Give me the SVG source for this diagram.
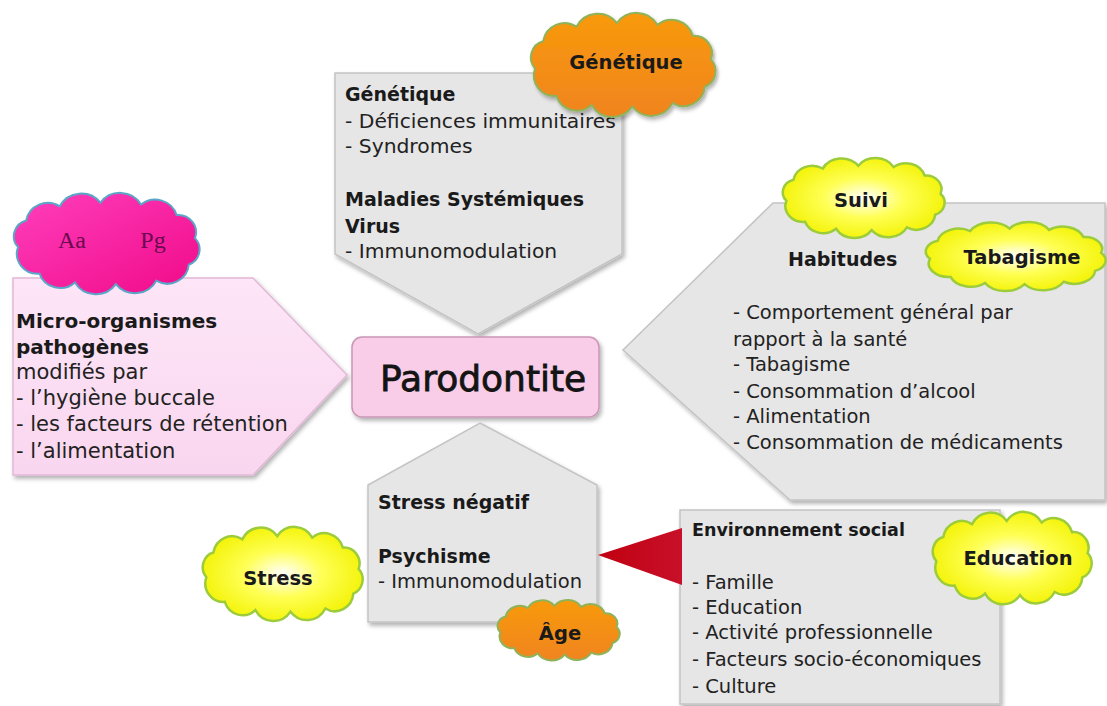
<svg xmlns="http://www.w3.org/2000/svg" xmlns:xlink="http://www.w3.org/1999/xlink" width="1107" height="706" viewBox="0 0 1107 706">
<style>
  .t { font-family: "DejaVu Sans", "Liberation Sans", sans-serif; font-size: 19.5px; fill: #222222; }
  .b { font-family: "DejaVu Sans", "Liberation Sans", sans-serif; font-size: 19px; font-weight: bold; fill: #1a1a1a; }
  .cl { font-family: "DejaVu Sans", "Liberation Sans", sans-serif; font-size: 19.5px; font-weight: bold; fill: #1a1a1a; text-anchor: middle; }
  .grey { fill: #e6e6e6; stroke: #c4c4c4; stroke-width: 1.5; filter: url(#sh); }
</style>
<defs>
  <filter id="sh" x="-10%" y="-10%" width="125%" height="125%">
    <feDropShadow dx="2" dy="3" stdDeviation="2" flood-color="#000" flood-opacity="0.3"/>
  </filter>
  <path id="cloud" vector-effect="non-scaling-stroke" d="M5.4,59.4 A18,18 0 0 1 14.1,30.2 A23.5,23.5 0 0 1 50,14.6 A26,26 0 0 1 93.5,10.7 A26,26 0 0 1 137,12.6 A24,24 0 0 1 175,24.3 A19,19 0 0 1 194.6,49.6 A18,18 0 0 1 188,78.8 A23,23 0 0 1 153.3,96.4 A26,26 0 0 1 110,100.2 A26,26 0 0 1 66.3,98.3 A23.5,23.5 0 0 1 28.3,88.6 A22,22 0 0 1 5.4,59.4 Z"/>
  <radialGradient id="gYellow" cx="0.5" cy="0.5" r="0.55">
    <stop offset="0" stop-color="#ffffff"/>
    <stop offset="0.45" stop-color="#ffff55"/>
    <stop offset="1" stop-color="#f2f200"/>
  </radialGradient>
  <linearGradient id="gOrange" x1="0" y1="0" x2="0" y2="1">
    <stop offset="0" stop-color="#f89a0a"/>
    <stop offset="1" stop-color="#f08420"/>
  </linearGradient>
  <linearGradient id="gPink" x1="0" y1="0" x2="1" y2="1">
    <stop offset="0" stop-color="#ff3fbd"/>
    <stop offset="1" stop-color="#f00a88"/>
  </linearGradient>
  <linearGradient id="gPinkBox" x1="0" y1="0" x2="0" y2="1">
    <stop offset="0" stop-color="#fde6f7"/>
    <stop offset="1" stop-color="#f9d6ef"/>
  </linearGradient>
  <linearGradient id="gRed" x1="0" y1="0" x2="1" y2="0">
    <stop offset="0" stop-color="#c0000f"/>
    <stop offset="1" stop-color="#c8102a"/>
  </linearGradient>
</defs>

<rect width="1107" height="706" fill="#ffffff"/>

<g id="genetique">
  <polygon class="grey" points="335,73 622,73 622,254 478,334 335,254"/>
  <text class="b" x="345" y="101">Génétique</text>
  <text class="t" x="345" y="128" style="font-size:20.3px">- Déficiences immunitaires</text>
  <text class="t" x="345" y="153" style="font-size:20.3px">- Syndromes</text>
  <text class="b" x="345" y="206">Maladies Systémiques</text>
  <text class="b" x="345" y="233">Virus</text>
  <text class="t" x="345" y="258" style="font-size:20.3px">- Immunomodulation</text>
</g>

<g id="habitudes">
  <polygon class="grey" points="773,203 1105,203 1105,500 790,500 623,350"/>
  <text class="b" x="788" y="266">Habitudes</text>
  <text class="t" x="733" y="319">- Comportement général par</text>
  <text class="t" x="733" y="346">rapport à la santé</text>
  <text class="t" x="733" y="371">- Tabagisme</text>
  <text class="t" x="733" y="398">- Consommation d’alcool</text>
  <text class="t" x="733" y="423">- Alimentation</text>
  <text class="t" x="733" y="449">- Consommation de médicaments</text>
</g>

<g id="microorganismes">
  <polygon points="13,278 253,278 347,375 253,475 13,475" fill="url(#gPinkBox)" stroke="#e2b8d6" stroke-width="1.5" filter="url(#sh)"/>
  <text class="b" x="16" y="328" style="font-size:20px">Micro-organismes</text>
  <text class="b" x="16" y="354" style="font-size:20px">pathogènes</text>
  <text class="t" x="16" y="379" style="font-size:21px">modifiés par</text>
  <text class="t" x="16" y="405" style="font-size:21px">- l’hygiène buccale</text>
  <text class="t" x="16" y="431" style="font-size:21px">- les facteurs de rétention</text>
  <text class="t" x="16" y="458" style="font-size:21px">- l’alimentation</text>
</g>

<g id="parodontite">
  <rect x="352" y="337" width="247" height="80" rx="10" fill="#f9cde7" stroke="#c996b6" stroke-width="1.5" filter="url(#sh)"/>
  <text x="380" y="391" style="font-family:'DejaVu Sans','Liberation Sans',sans-serif;font-size:36px;fill:#141414;stroke:#141414;stroke-width:0.8">Parodontite</text>
</g>

<g id="psychisme">
  <polygon class="grey" points="480,423 597,485 597,622 368,622 368,485"/>
  <text class="b" x="378" y="509">Stress négatif</text>
  <text class="b" x="378" y="563">Psychisme</text>
  <text class="t" x="378" y="588">- Immunomodulation</text>
</g>

<g id="environnement">
  <rect class="grey" x="680" y="510" width="320" height="194"/>
  <text class="b" x="692" y="536" style="font-size:17.5px">Environnement  social</text>
  <text class="t" x="692" y="589">- Famille</text>
  <text class="t" x="692" y="614">- Education</text>
  <text class="t" x="692" y="639">- Activité professionnelle</text>
  <text class="t" x="692" y="666">- Facteurs socio-économiques</text>
  <text class="t" x="692" y="693">- Culture</text>
</g>

<g id="connectors">
  <polygon points="598,555 682,528 682,585" fill="url(#gRed)"/>
</g>

<g id="cloud-genetique">
  <use xlink:href="#cloud" href="#cloud" transform="translate(530,13) scale(0.93,0.935)" fill="url(#gOrange)" stroke="#8fb35a" stroke-width="2" filter="url(#sh)"/>
  <text class="cl" x="626" y="69">Génétique</text>
</g>

<g id="cloud-aapg">
  <use xlink:href="#cloud" href="#cloud" transform="translate(13,193) scale(0.935,0.91)" fill="url(#gPink)" stroke="#5aa6c8" stroke-width="2"/>
  <text x="72" y="248" style="font-family:'Liberation Serif',serif;font-size:24px;fill:#6a0a50;text-anchor:middle">Aa</text>
  <text x="153" y="248" style="font-family:'Liberation Serif',serif;font-size:24px;fill:#6a0a50;text-anchor:middle">Pg</text>
</g>

<g id="cloud-suivi">
  <use xlink:href="#cloud" href="#cloud" transform="translate(782,158) scale(0.815,0.72)" fill="url(#gYellow)" stroke="#9ccc3c" stroke-width="2.5"/>
  <text class="cl" x="861" y="207">Suivi</text>
</g>

<g id="cloud-tabagisme">
  <use xlink:href="#cloud" href="#cloud" transform="translate(925,222) scale(0.905,0.62)" fill="url(#gYellow)" stroke="#9ccc3c" stroke-width="2.5"/>
  <text class="cl" x="1022" y="264">Tabagisme</text>
</g>

<g id="cloud-education">
  <use xlink:href="#cloud" href="#cloud" transform="translate(932,512) scale(0.8,0.83)" fill="url(#gYellow)" stroke="#9ccc3c" stroke-width="2.5"/>
  <text class="cl" x="1018" y="565">Education</text>
</g>

<g id="cloud-stress">
  <use xlink:href="#cloud" href="#cloud" transform="translate(202,527) scale(0.805,0.845)" fill="url(#gYellow)" stroke="#9ccc3c" stroke-width="2.5"/>
  <text class="cl" x="278" y="585">Stress</text>
</g>

<g id="cloud-age">
  <use xlink:href="#cloud" href="#cloud" transform="translate(497,600) scale(0.615,0.545)" fill="url(#gOrange)" stroke="#8fb35a" stroke-width="2"/>
  <text class="cl" x="560" y="640">Âge</text>
</g>
</svg>
